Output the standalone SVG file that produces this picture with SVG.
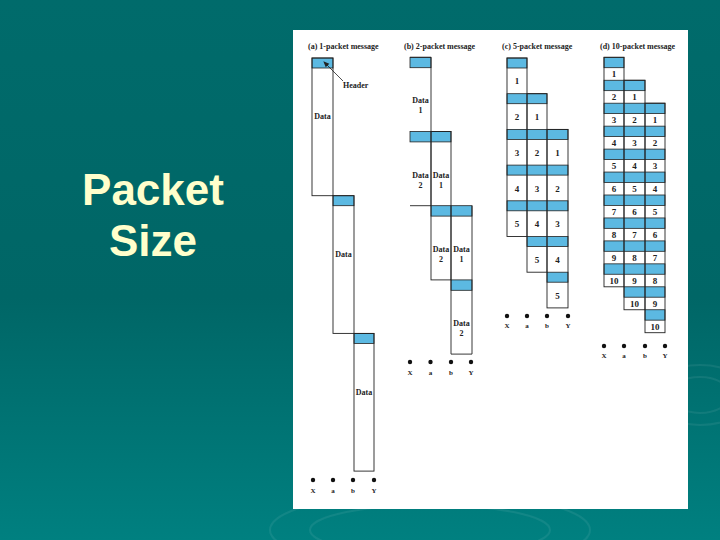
<svg xmlns="http://www.w3.org/2000/svg" width="720" height="540" viewBox="0 0 720 540">
<defs>
<linearGradient id="bg" x1="0" y1="0" x2="0" y2="1">
<stop offset="0" stop-color="#006b6b"/>
<stop offset="0.55" stop-color="#006666"/>
<stop offset="1" stop-color="#008080"/>
</linearGradient>
<marker id="arr" markerWidth="6" markerHeight="6" refX="5" refY="3" orient="auto" markerUnits="userSpaceOnUse">
<path d="M0,0.5 L6,3 L0,5.5 z" fill="#222"/>
</marker>
<style>
.title{font-family:"Liberation Serif",serif;font-weight:bold;font-size:8px;fill:#222}
.lbl{font-family:"Liberation Serif",serif;font-weight:bold;font-size:8px;fill:#222;text-anchor:middle}
.num{font-family:"Liberation Serif",serif;font-weight:bold;font-size:9px;fill:#222;text-anchor:middle}
.node{font-family:"Liberation Serif",serif;font-weight:bold;font-size:7px;fill:#222;text-anchor:middle}
.hdr{fill:#5cb9e2;stroke:#222;stroke-width:0.8}
.col{fill:none;stroke:#222;stroke-width:0.9}
.dot{fill:#111}
.ripple{fill:none;stroke:#ffffff;stroke-opacity:0.07;stroke-width:2}
.big{font-family:"Liberation Sans",Arial,sans-serif;font-weight:bold;font-size:44px;fill:#ffffcc;text-anchor:middle}
</style>
</defs>
<rect x="0" y="0" width="720" height="540" fill="url(#bg)"/>
<g id="ripples">
<ellipse class="ripple" cx="700" cy="395" rx="30" ry="18"/>
<ellipse class="ripple" cx="700" cy="395" rx="50" ry="30"/>
<ellipse class="ripple" cx="430" cy="530" rx="120" ry="25"/>
<ellipse class="ripple" cx="430" cy="530" rx="160" ry="38"/>
</g>
<g id="heading">
<text class="big" x="153" y="205">Packet</text>
<text class="big" x="153" y="256">Size</text>
</g>
<rect id="panel" x="293" y="30" width="395" height="479" fill="#ffffff"/>

<g id="panel-a">
<text class="title" x="308" y="49">(a) 1-packet message</text>
<rect class="hdr" x="312" y="58" width="21" height="10"/>
<rect class="hdr" x="333" y="195.7" width="21" height="10"/>
<rect class="hdr" x="354" y="333.4" width="20" height="10"/>
<rect class="col" x="312" y="58" width="21" height="137.7"/>
<rect class="col" x="333" y="195.7" width="21" height="137.7"/>
<rect class="col" x="354" y="333.4" width="20" height="137.7"/>
<text class="lbl" x="322.5" y="119">Data</text>
<text class="lbl" x="343.5" y="257">Data</text>
<text class="lbl" x="364" y="395">Data</text>
<text class="title" x="343" y="88">Header</text>
<g id="connectors-a">
<line x1="343" y1="81" x2="324" y2="62" stroke="#222" stroke-width="0.8" marker-end="url(#arr)"/>
</g>
<circle class="dot" cx="313" cy="480" r="2.2"/>
<circle class="dot" cx="333" cy="480" r="2.2"/>
<circle class="dot" cx="353" cy="480" r="2.2"/>
<circle class="dot" cx="374" cy="480" r="2.2"/>
<text class="node" x="313" y="493">X</text>
<text class="node" x="333" y="493">a</text>
<text class="node" x="353" y="493">b</text>
<text class="node" x="374" y="493">Y</text>
</g>

<g id="panel-b">
<text class="title" x="404" y="49">(b) 2-packet message</text>
<rect class="hdr" x="410" y="57.3" width="21" height="10.4"/>
<rect class="hdr" x="410" y="131.5" width="41" height="10.4"/>
<rect class="hdr" x="431" y="205.7" width="41" height="10.4"/>
<rect class="hdr" x="451" y="279.9" width="21" height="10.4"/>
<path class="col" d="M410,57.3 H431 V205.7 H410"/>
<rect class="col" x="431" y="131.5" width="20" height="148.4"/>
<path class="col" d="M451,205.7 V354.1 H472 V205.7" stroke="#888"/>
<text class="lbl" x="420.5" y="103.3">Data</text>
<text class="lbl" x="420.5" y="113.3">1</text>
<text class="lbl" x="420.5" y="177.5">Data</text>
<text class="lbl" x="420.5" y="187.5">2</text>
<text class="lbl" x="441" y="177.5">Data</text>
<text class="lbl" x="441" y="187.5">1</text>
<text class="lbl" x="441" y="251.7">Data</text>
<text class="lbl" x="441" y="261.7">2</text>
<text class="lbl" x="461.5" y="251.7">Data</text>
<text class="lbl" x="461.5" y="261.7">1</text>
<text class="lbl" x="461.5" y="325.9">Data</text>
<text class="lbl" x="461.5" y="335.9">2</text>
<circle class="dot" cx="410" cy="362" r="2.2"/>
<circle class="dot" cx="430.5" cy="362" r="2.2"/>
<circle class="dot" cx="451" cy="362" r="2.2"/>
<circle class="dot" cx="471" cy="362" r="2.2"/>
<text class="node" x="410" y="375">X</text>
<text class="node" x="430.5" y="375">a</text>
<text class="node" x="451" y="375">b</text>
<text class="node" x="471" y="375">Y</text>
</g>

<g id="panel-c">
<text class="title" x="502" y="49">(c) 5-packet message</text>
<rect class="hdr" x="507" y="58" width="20" height="10"/>
<rect class="hdr" x="507" y="93.7" width="40" height="10"/>
<rect class="hdr" x="507" y="129.4" width="61" height="10"/>
<rect class="hdr" x="507" y="165.1" width="61" height="10"/>
<rect class="hdr" x="507" y="200.8" width="61" height="10"/>
<rect class="hdr" x="527" y="236.5" width="41" height="10"/>
<rect class="hdr" x="547" y="272.2" width="21" height="10"/>
<rect class="col" x="507" y="58" width="20" height="178.5"/>
<rect class="col" x="527" y="93.7" width="20" height="178.5"/>
<rect class="col" x="547" y="129.4" width="21" height="178.5"/>
<text class="num" x="517" y="84.4">1</text>
<text class="num" x="517" y="120.1">2</text><text class="num" x="537" y="120.1">1</text>
<text class="num" x="517" y="155.8">3</text><text class="num" x="537" y="155.8">2</text><text class="num" x="557.5" y="155.8">1</text>
<text class="num" x="517" y="191.5">4</text><text class="num" x="537" y="191.5">3</text><text class="num" x="557.5" y="191.5">2</text>
<text class="num" x="517" y="227.2">5</text><text class="num" x="537" y="227.2">4</text><text class="num" x="557.5" y="227.2">3</text>
<text class="num" x="537" y="262.9">5</text><text class="num" x="557.5" y="262.9">4</text>
<text class="num" x="557.5" y="298.6">5</text>
<circle class="dot" cx="507" cy="316" r="2.2"/>
<circle class="dot" cx="527" cy="316" r="2.2"/>
<circle class="dot" cx="547" cy="316" r="2.2"/>
<circle class="dot" cx="568" cy="316" r="2.2"/>
<text class="node" x="507" y="328">X</text>
<text class="node" x="527" y="328">a</text>
<text class="node" x="547" y="328">b</text>
<text class="node" x="568" y="328">Y</text>
</g>

<g id="panel-d">
<text class="title" x="600" y="49">(d) 10-packet message</text>
<rect class="hdr" x="604" y="57.3" width="20" height="10.4"/>
<rect class="hdr" x="604" y="80.25" width="41" height="10.4"/>
<rect class="hdr" x="604" y="103.2" width="61" height="10.4"/>
<rect class="hdr" x="604" y="126.15" width="61" height="10.4"/>
<rect class="hdr" x="604" y="149.1" width="61" height="10.4"/>
<rect class="hdr" x="604" y="172.05" width="61" height="10.4"/>
<rect class="hdr" x="604" y="195" width="61" height="10.4"/>
<rect class="hdr" x="604" y="217.95" width="61" height="10.4"/>
<rect class="hdr" x="604" y="240.9" width="61" height="10.4"/>
<rect class="hdr" x="604" y="263.85" width="61" height="10.4"/>
<rect class="hdr" x="624" y="286.8" width="41" height="10.4"/>
<rect class="hdr" x="645" y="309.75" width="20" height="10.4"/>
<rect class="col" x="604" y="57.3" width="20" height="229.5"/>
<rect class="col" x="624" y="80.25" width="21" height="229.5"/>
<rect class="col" x="645" y="103.2" width="20" height="229.5"/>
<text class="num" x="614" y="77.2">1</text>
<text class="num" x="614" y="100.15">2</text><text class="num" x="634.5" y="100.15">1</text>
<text class="num" x="614" y="123.1">3</text><text class="num" x="634.5" y="123.1">2</text><text class="num" x="655" y="123.1">1</text>
<text class="num" x="614" y="146.05">4</text><text class="num" x="634.5" y="146.05">3</text><text class="num" x="655" y="146.05">2</text>
<text class="num" x="614" y="169">5</text><text class="num" x="634.5" y="169">4</text><text class="num" x="655" y="169">3</text>
<text class="num" x="614" y="191.95">6</text><text class="num" x="634.5" y="191.95">5</text><text class="num" x="655" y="191.95">4</text>
<text class="num" x="614" y="214.9">7</text><text class="num" x="634.5" y="214.9">6</text><text class="num" x="655" y="214.9">5</text>
<text class="num" x="614" y="237.85">8</text><text class="num" x="634.5" y="237.85">7</text><text class="num" x="655" y="237.85">6</text>
<text class="num" x="614" y="260.8">9</text><text class="num" x="634.5" y="260.8">8</text><text class="num" x="655" y="260.8">7</text>
<text class="num" x="614" y="283.75">10</text><text class="num" x="634.5" y="283.75">9</text><text class="num" x="655" y="283.75">8</text>
<text class="num" x="634.5" y="306.7">10</text><text class="num" x="655" y="306.7">9</text>
<text class="num" x="655" y="329.65">10</text>
<circle class="dot" cx="604" cy="346" r="2.2"/>
<circle class="dot" cx="624" cy="346" r="2.2"/>
<circle class="dot" cx="645" cy="346" r="2.2"/>
<circle class="dot" cx="665" cy="346" r="2.2"/>
<text class="node" x="604" y="358">X</text>
<text class="node" x="624" y="358">a</text>
<text class="node" x="645" y="358">b</text>
<text class="node" x="665" y="358">Y</text>
</g>
</svg>
